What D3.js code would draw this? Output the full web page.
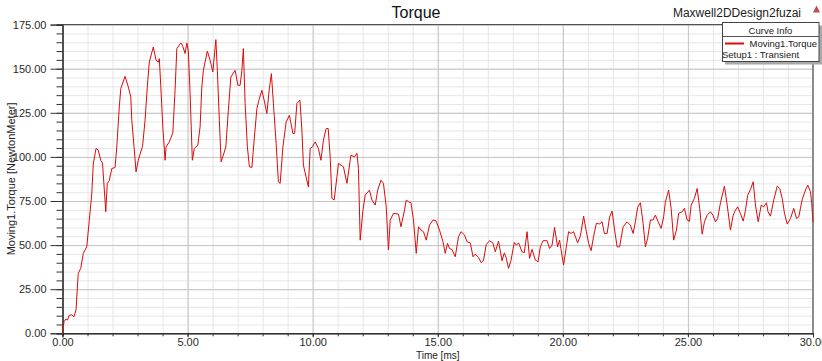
<!DOCTYPE html>
<html>
<head>
<meta charset="utf-8">
<script src="https://cdn.jsdelivr.net/npm/d3@7"></script>
<style>
body { margin: 0; background: #fff; }
svg { display: block; font-family: "Liberation Sans", Arial, sans-serif; }
</style>
</head>
<body>
<div id="container"><svg></svg></div>
<script>
let width = 822;
let height = 361;

// Moving1.Torque (time in ms, torque in NewtonMeter)
let timeMs = [
    0, 0.06, 0.14, 0.2, 0.27, 0.37, 0.46, 0.54, 0.63, 0.73, 0.83, 0.97, 1.07, 1.17, 1.23, 1.34, 1.43, 1.53, 1.6, 1.73,
    1.79, 1.87, 1.97, 2.1, 2.17, 2.27, 2.33, 2.5, 2.63, 2.73, 2.77, 2.86, 2.94, 3.03, 3.1, 3.2, 3.3, 3.39, 3.47, 3.63,
    3.74, 3.83, 3.87, 3.93, 4.01, 4.1, 4.14, 4.27, 4.41, 4.5, 4.57, 4.73, 4.8, 4.9, 4.97, 5.03, 5.1, 5.19, 5.27, 5.41,
    5.5, 5.57, 5.63, 5.79, 5.9, 6.01, 6.13, 6.19, 6.27, 6.34, 6.43, 6.53, 6.63, 6.73, 6.9, 7.01, 7.1, 7.17, 7.23, 7.3,
    7.39, 7.47, 7.57, 7.66, 7.77, 7.86, 7.97, 8.06, 8.17, 8.26, 8.35, 8.43, 8.54, 8.63, 8.7, 8.81, 8.94, 9.07, 9.21, 9.28,
    9.37, 9.49, 9.57, 9.63, 9.73, 9.83, 9.9, 9.99, 10.1, 10.23, 10.33, 10.43, 10.54, 10.62, 10.7, 10.77, 10.86, 10.97, 11.03, 11.23,
    11.37, 11.53, 11.67, 11.77, 11.83, 11.9, 12.01, 12.1, 12.27, 12.37, 12.5, 12.6, 12.73, 12.83, 12.94, 13.03, 13.1, 13.23, 13.43, 13.53,
    13.67, 13.74, 13.83, 13.93, 14.03, 14.14, 14.23, 14.33, 14.43, 14.54, 14.67, 14.81, 14.93, 15.07, 15.21, 15.3, 15.39, 15.47, 15.57, 15.7,
    15.83, 15.93, 16.07, 16.17, 16.3, 16.41, 16.5, 16.63, 16.74, 16.83, 16.94, 17.07, 17.2, 17.3, 17.43, 17.57, 17.66, 17.74, 17.83, 17.93,
    18.06, 18.14, 18.23, 18.37, 18.46, 18.57, 18.67, 18.77, 18.9, 19.01, 19.1, 19.21, 19.37, 19.47, 19.57, 19.67, 19.79, 19.87, 19.92, 20.03,
    20.14, 20.23, 20.33, 20.43, 20.59, 20.7, 20.83, 20.94, 21.03, 21.13, 21.23, 21.34, 21.47, 21.57, 21.66, 21.77, 21.87, 21.97, 22.06, 22.17,
    22.27, 22.41, 22.57, 22.7, 22.81, 22.9, 22.99, 23.1, 23.21, 23.3, 23.39, 23.5, 23.6, 23.7, 23.81, 23.93, 24.03, 24.1, 24.23, 24.33,
    24.43, 24.54, 24.63, 24.77, 24.86, 24.97, 25.06, 25.13, 25.26, 25.37, 25.47, 25.57, 25.66, 25.77, 25.9, 26.0, 26.1, 26.19, 26.3, 26.46,
    26.57, 26.7, 26.81, 26.9, 26.99, 27.1, 27.21, 27.3, 27.39, 27.5, 27.61, 27.7, 27.81, 27.93, 28.03, 28.14, 28.2, 28.3, 28.43, 28.57,
    28.67, 28.77, 28.86, 28.97, 29.1, 29.23, 29.34, 29.43, 29.57, 29.7, 29.79, 29.9, 29.95, 30.0
];
let torque = [
    0, 6.6, 8.1, 7.5, 10.2, 10.5, 9.4, 13.2, 34, 36.8, 45.3, 49, 64, 79, 96, 104.8, 103.8, 98, 96.5, 68.9,
    85, 86.5, 93.4, 94, 105.7, 128.3, 138.7, 145.7, 139.7, 134, 120.8, 105.7, 91.5, 98.1, 101.5, 106, 120.8, 139.7, 153.8, 162.3,
    154.8, 153.8, 155.7, 139.7, 117, 98.1, 105.7, 108.5, 113.6, 137.8, 161.4, 164.6, 163, 158.6, 164.6, 160, 136, 98.1, 104.8, 106.6,
    117, 139.7, 149.1, 160, 154.8, 148.2, 166.5, 149, 120.8, 97.2, 101, 105.7, 126.5, 145.3, 149.1, 140.6, 140.6, 149, 161.4, 130.3,
    105.7, 94.4, 94, 109.5, 127.4, 132.6, 137.8, 132.2, 124.6, 137.8, 147.2, 130.3, 107.6, 85.9, 85, 105.7, 119.8, 123.6, 113.3, 113.3,
    130.3, 132.2, 115.1, 95.3, 89, 83, 104.8, 105.7, 108.5, 104.8, 98.1, 109.5, 116.1, 116.1, 100, 76.5, 75.6, 88.7, 96.3, 94.4,
    85, 101, 100, 102, 93.5, 52.8, 69.8, 78.3, 81.2, 75.5, 72.7, 81.2, 86.8, 85, 71.7, 47.2, 64.2, 68, 67.6, 60.4,
    69.8, 75.5, 74.6, 74, 64.2, 45.3, 60.4, 58.6, 57.6, 52.8, 61.3, 64.2, 63.8, 58.5, 51.9, 45.3, 51, 48.1, 47.5, 43.4,
    54.7, 57.6, 55.7, 51.9, 51.3, 43.4, 44.9, 43, 40, 41.5, 50.4, 52.5, 51.3, 46.2, 52.3, 41.1, 45.6, 42.6, 36.8, 41.5,
    51.5, 50, 51.3, 46.2, 45.8, 57.6, 42.5, 47.6, 41.5, 40.6, 49, 52.5, 52.5, 48.1, 50, 60, 49, 52.8, 48.1, 38.7,
    49, 57.6, 56.6, 57.6, 51.3, 55, 66.4, 57.6, 51, 46.8, 55, 62.3, 62, 63.2, 56.6, 56.6, 66, 69.3, 59.6, 49,
    49, 60.4, 63.2, 61.3, 56.6, 63.2, 71.4, 74, 62.3, 49, 53.8, 64.2, 64.2, 67, 63.2, 59.5, 66, 74.5, 81.2, 70.8,
    52.8, 58.5, 68, 68.9, 70.8, 64.2, 63.5, 72.7, 76.5, 82.1, 70.8, 56.2, 63.2, 67, 68.9, 67, 63.2, 65.1, 74, 83.4,
    72.7, 58.5, 67, 69.8, 71.7, 67.9, 63.6, 69.8, 78.3, 81.5, 85.9, 72.7, 63.2, 72.7, 71.7, 74, 69, 66.4, 75.5, 83.4,
    82.1, 76.4, 68, 61.9, 65.1, 70.8, 65.1, 66, 75.9, 81.2, 84, 80.2, 73.6, 63
];

let xTicks = [0, 5, 10, 15, 20, 25, 30];
let yTicks = [0, 25, 50, 75, 100, 125, 150, 175];
let xMinor = d3.range(0, 30.01, 1);
let yMinor = d3.range(0, 175.01, 5);

let chartTitle = "Torque";
let designName = "Maxwell2DDesign2fuzai";
let xLabel = "Time [ms]";
let yLabel = "Moving1.Torque [NewtonMeter]";
let legendTitle = "Curve Info";
let seriesName = "Moving1.Torque";
let setupName = "Setup1 : Transient";

function draw_graph() {
    let svg = d3.select('#container').select('svg')
        .attr('width', width)
        .attr('height', height);

    let left = 62.5, right = 813, top = 24.6, bottom = 333.3;
    let x = d3.scaleLinear().domain([0, 30]).range([left, right]);
    let y = d3.scaleLinear().domain([0, 175]).range([bottom, top]);

    // grid: light minor lines, darker major lines
    svg.append("g")
        .attr("transform", `translate(0,${bottom})`)
        .call(d3.axisBottom(x).tickValues(xMinor).tickSize(-(bottom - top)).tickFormat(""))
        .call(g => g.select(".domain").remove())
        .call(g => g.selectAll("line").attr("stroke", "#e6e6e6"));
    svg.append("g")
        .attr("transform", `translate(${left},0)`)
        .call(d3.axisLeft(y).tickValues(yMinor).tickSize(-(right - left)).tickFormat(""))
        .call(g => g.select(".domain").remove())
        .call(g => g.selectAll("line").attr("stroke", "#e6e6e6"));
    svg.append("g")
        .attr("transform", `translate(0,${bottom})`)
        .call(d3.axisBottom(x).tickValues(xTicks).tickSize(-(bottom - top)).tickFormat(""))
        .call(g => g.select(".domain").remove())
        .call(g => g.selectAll("line").attr("stroke", "#c4c4c4"));
    svg.append("g")
        .attr("transform", `translate(${left},0)`)
        .call(d3.axisLeft(y).tickValues(yTicks).tickSize(-(right - left)).tickFormat(""))
        .call(g => g.select(".domain").remove())
        .call(g => g.selectAll("line").attr("stroke", "#c4c4c4"));

    // frame
    svg.append("line").attr("x1", left).attr("x2", right).attr("y1", top).attr("y2", top)
        .attr("stroke", "#444").attr("stroke-width", 1);
    svg.append("line").attr("x1", right).attr("x2", right).attr("y1", top).attr("y2", bottom + 1)
        .attr("stroke", "#8c8c8c").attr("stroke-width", 2);

    // axes with minor ticks
    svg.append("g")
        .attr("transform", `translate(${left},0)`)
        .call(d3.axisLeft(y).tickValues(yMinor).tickSize(6).tickFormat(""))
        .call(g => g.selectAll("line").attr("stroke", "#333"));
    svg.append("g")
        .attr("transform", `translate(${left},0)`)
        .call(d3.axisLeft(y).tickValues(yTicks).tickSize(12).tickPadding(4).tickFormat(d3.format(".2f")))
        .call(g => g.select(".domain").attr("stroke", "#333"))
        .call(g => g.selectAll("line").attr("stroke", "#333"))
        .call(g => g.selectAll("text").attr("fill", "#2a2a2a").attr("font-size", 11)
            .attr("font-family", "Liberation Sans, Arial, sans-serif"));

    svg.append("g")
        .attr("transform", `translate(0,${bottom})`)
        .call(d3.axisBottom(x).tickValues(xMinor).tickSize(3).tickFormat(""))
        .call(g => g.selectAll("line").attr("stroke", "#333"));
    svg.append("g")
        .attr("transform", `translate(0,${bottom})`)
        .call(d3.axisBottom(x).tickValues(xTicks).tickSize(4).tickPadding(1).tickFormat(d3.format(".2f")))
        .call(g => g.select(".domain").attr("stroke", "#333"))
        .call(g => g.selectAll("line").attr("stroke", "#333"))
        .call(g => g.selectAll("text").attr("fill", "#2a2a2a").attr("font-size", 11)
            .attr("font-family", "Liberation Sans, Arial, sans-serif"));

    // curve
    let points = timeMs.map((t, i) => [t, torque[i]]);
    svg.append("path")
        .datum(points)
        .attr("fill", "none")
        .attr("stroke", "#dc0a0a")
        .attr("stroke-width", 1)
        .attr("stroke-linejoin", "round")
        .attr("d", d3.line().x(d => x(d[0])).y(d => y(d[1])));

    // titles
    svg.append("text").attr("x", 416).attr("y", 17.5).attr("text-anchor", "middle")
        .attr("font-size", 16).attr("fill", "#111").text(chartTitle);
    svg.append("text").attr("x", 801).attr("y", 16.5).attr("text-anchor", "end")
        .attr("font-size", 12).attr("fill", "#222").text(designName);
    svg.append("path").attr("d", "M813,12.5 L816.5,5.5 L820,12.5 Z").attr("fill", "#c24a4a");

    svg.append("text").attr("x", (left + right) / 2).attr("y", 358.5).attr("text-anchor", "middle")
        .attr("font-size", 10).attr("fill", "#222").text(xLabel);
    svg.append("text").attr("transform", `translate(15,${(top + bottom) / 2}) rotate(-90)`)
        .attr("text-anchor", "middle").attr("font-size", 11).attr("fill", "#222").text(yLabel);

    // legend
    let lg = svg.append("g");
    lg.append("rect").attr("x", 725).attr("y", 25.5).attr("width", 97).attr("height", 39).attr("fill", "#a8a8a8");
    lg.append("rect").attr("x", 722.5).attr("y", 22.5).attr("width", 96.5).attr("height", 39)
        .attr("fill", "#fff").attr("stroke", "#444");
    lg.append("line").attr("x1", 722.5).attr("x2", 819).attr("y1", 36.5).attr("y2", 36.5).attr("stroke", "#555");
    lg.append("text").attr("x", 770.5).attr("y", 33.5).attr("text-anchor", "middle")
        .attr("font-size", 9.5).attr("fill", "#222").text(legendTitle);
    lg.append("line").attr("x1", 725).attr("x2", 744).attr("y1", 43.5).attr("y2", 43.5)
        .attr("stroke", "#dc0a0a").attr("stroke-width", 2);
    lg.append("text").attr("x", 749.5).attr("y", 47)
        .attr("font-size", 9.5).attr("fill", "#222").text(seriesName);
    lg.append("text").attr("x", 722).attr("y", 57.5)
        .attr("font-size", 9.5).attr("fill", "#222").text(setupName);
}

draw_graph();
</script>
</body>
</html>
